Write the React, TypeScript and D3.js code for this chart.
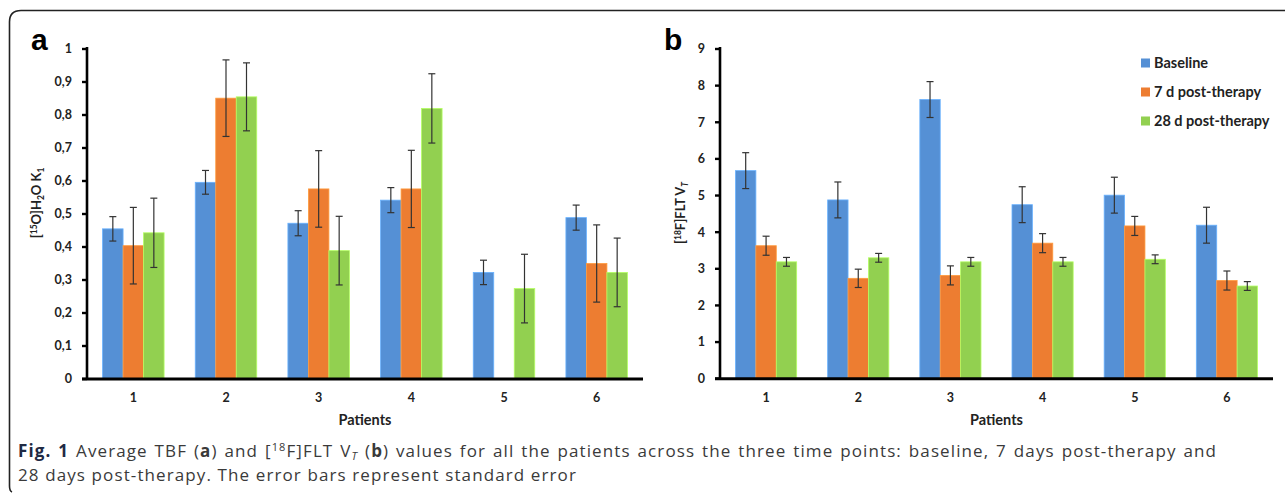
import React, { useEffect, useRef } from "react";
import * as d3 from "d3";

const patients = ["1", "2", "3", "4", "5", "6"];
const seriesNames = ["Baseline", "7 d post-therapy", "28 d post-therapy"];
const seriesColors = ["#5590d5", "#ed7d31", "#92d050"];

// Panel a: [15O]H2O K1
const baselineK1 = [0.455, 0.596, 0.472, 0.542, 0.323, 0.489];
const day7K1 = [0.404, 0.851, 0.576, 0.576, null, 0.35];
const day28K1 = [0.443, 0.855, 0.389, 0.82, 0.274, 0.323];
const baselineK1Err = [0.037, 0.036, 0.038, 0.038, 0.037, 0.038];
const day7K1Err = [0.116, 0.116, 0.116, 0.117, null, 0.117];
const day28K1Err = [0.105, 0.103, 0.104, 0.105, 0.104, 0.104];
const kTickValues = [0, 0.1, 0.2, 0.3, 0.4, 0.5, 0.6, 0.7, 0.8, 0.9, 1];
const kTickLabels = ["0", "0,1", "0,2", "0,3", "0,4", "0,5", "0,6", "0,7", "0,8", "0,9", "1"];

// Panel b: [18F]FLT VT
const baselineVT = [5.68, 4.88, 7.62, 4.75, 5.01, 4.19];
const day7VT = [3.63, 2.74, 2.82, 3.7, 4.17, 2.68];
const day28VT = [3.19, 3.3, 3.19, 3.19, 3.26, 2.53];
const baselineVTErr = [0.49, 0.49, 0.49, 0.49, 0.49, 0.49];
const day7VTErr = [0.26, 0.25, 0.26, 0.26, 0.26, 0.26];
const day28VTErr = [0.12, 0.12, 0.12, 0.12, 0.12, 0.12];
const vTickValues = [0, 1, 2, 3, 4, 5, 6, 7, 8, 9];
const vTickLabels = ["0", "1", "2", "3", "4", "5", "6", "7", "8", "9"];

const FONT = "Lato, 'Open Sans', sans-serif";

type PanelProps = {
  x0: number;
  x1: number;
  yTop: number;
  yBottom: number;
  maxVal: number;
  values: (number | null)[][];
  errors: (number | null)[][];
  tickValues: number[];
  tickLabels: string[];
  letter: string;
  letterX: number;
  yLabel: React.ReactNode;
  yLabelX: number;
  yLabelY: number;
};

function Panel(p: PanelProps) {
  const xOuter = d3.scaleBand<string>().domain(patients).range([p.x0, p.x1]).padding(0);
  const xInner = d3
    .scaleBand<string>()
    .domain(seriesNames)
    .range([0, xOuter.bandwidth()])
    .paddingInner(0)
    .paddingOuter(0.76);
  const y = d3.scaleLinear().domain([0, p.maxVal]).range([p.yBottom, p.yTop]);
  const bw = xInner.bandwidth();

  return (
    <g>
      <text x={p.letterX} y={50} fontFamily="'Liberation Sans', Arial, sans-serif" fontWeight="bold" fontSize={30} fill="#000">
        {p.letter}
      </text>
      {patients.map((pt, i) => (
        <g key={pt}>
          {seriesNames.map((s, j) => {
            const v = p.values[j][i];
            if (v == null) return null;
            const bx = (xOuter(pt) as number) + (xInner(s) as number);
            return (
              <rect
                key={s}
                x={bx}
                y={y(v)}
                width={bw}
                height={y(0) - y(v)}
                fill={seriesColors[j]}
                stroke={d3.color(seriesColors[j])!.brighter(0.6).formatHex()}
                strokeWidth={0.8}
              />
            );
          })}
        </g>
      ))}
      {patients.map((pt, i) => (
        <g key={"e" + pt}>
          {seriesNames.map((s, j) => {
            const v = p.values[j][i];
            const e = p.errors[j][i];
            if (v == null || e == null) return null;
            const cx = (xOuter(pt) as number) + (xInner(s) as number) + bw / 2;
            const t = y(v + e);
            const b = y(v - e);
            return (
              <g key={s} stroke="#333" strokeWidth={1.2}>
                <line x1={cx} x2={cx} y1={t} y2={b} />
                <line x1={cx - 3.5} x2={cx + 3.5} y1={t} y2={t} />
                <line x1={cx - 3.5} x2={cx + 3.5} y1={b} y2={b} />
              </g>
            );
          })}
        </g>
      ))}
      <line x1={p.x0} x2={p.x0} y1={p.yTop - 2} y2={p.yBottom} stroke="#000" strokeWidth={2.6} />
      {p.tickValues.map((tv, k) => (
        <g key={tv}>
          <line x1={p.x0 - 5} x2={p.x0} y1={y(tv)} y2={y(tv)} stroke="#000" strokeWidth={2.4} />
          <text
            x={p.x0 - 15}
            y={y(tv)}
            dy="0.35em"
            textAnchor="end"
            fontFamily={FONT}
            fontWeight="bold"
            fontSize={12.5}
            fill="#222"
          >
            {p.tickLabels[k]}
          </text>
        </g>
      ))}
      <line x1={p.x0 - 5} x2={p.x1} y1={p.yBottom} y2={p.yBottom} stroke="#000" strokeWidth={3} />
      {patients.map((pt) => (
        <text
          key={"xl" + pt}
          x={(xOuter(pt) as number) + xOuter.bandwidth() / 2}
          y={402}
          textAnchor="middle"
          fontFamily={FONT}
          fontWeight="bold"
          fontSize={12.5}
          fill="#222"
        >
          {pt}
        </text>
      ))}
      <text
        x={(p.x0 + p.x1) / 2}
        y={425}
        textAnchor="middle"
        fontFamily={FONT}
        fontWeight="bold"
        fontSize={14.5}
        fill="#222"
      >
        Patients
      </text>
      <text
        transform={`translate(${p.yLabelX},${p.yLabelY}) rotate(-90)`}
        textAnchor="middle"
        fontFamily={FONT}
        fontWeight="bold"
        fontSize={13}
        fill="#222"
      >
        {p.yLabel}
      </text>
    </g>
  );
}

export default function App() {
  const capRef = useRef<SVGTextElement>(null);
  const cap2Ref = useRef<SVGTextElement>(null);

  useEffect(() => {
    const el = capRef.current;
    const el2 = cap2Ref.current;
    if (!el || !el2) return;
    el2.setAttribute("letter-spacing", "0");
    const len2 = el2.getComputedTextLength();
    const n2 = (el2.textContent || "").length;
    const ls = Math.max(0, (559 - len2) / n2);
    el2.setAttribute("letter-spacing", String(ls));
    el.setAttribute("letter-spacing", String(ls));
    el.setAttribute("word-spacing", "0");
    const len = el.getComputedTextLength();
    const spaces = (el.textContent || "").split(" ").length - 1;
    if (spaces > 0) el.setAttribute("word-spacing", String(Math.max(0, (1199 - len) / spaces)));
  }, []);

  return (
    <svg width={1285} height={494} style={{ position: "absolute", left: 0, top: 0, background: "#fff" }}>
      <rect width={1285} height={494} fill="#fff" />
      <path d="M12,492 Q9.5,491 9.5,486 L9.5,22 Q9.5,10.5 21,10.5 L1285,10.5" fill="none" stroke="#222" strokeWidth={1.6} />
      <Panel
        x0={87}
        x1={643}
        yTop={49}
        yBottom={379}
        maxVal={1}
        values={[baselineK1, day7K1, day28K1]}
        errors={[baselineK1Err, day7K1Err, day28K1Err]}
        tickValues={kTickValues}
        tickLabels={kTickLabels}
        letter="a"
        letterX={31}
        yLabelX={41}
        yLabelY={203}
        yLabel={
          <>
            [<tspan fontSize={8.5} dy={-4}>15</tspan>
            <tspan dy={4}>O]H</tspan>
            <tspan fontSize={8.5} dy={3}>2</tspan>
            <tspan dy={-3}>O K</tspan>
            <tspan fontSize={8.5} dy={3}>1</tspan>
          </>
        }
      />
      <Panel
        x0={720}
        x1={1273}
        yTop={49}
        yBottom={378.7}
        maxVal={9}
        values={[baselineVT, day7VT, day28VT]}
        errors={[baselineVTErr, day7VTErr, day28VTErr]}
        tickValues={vTickValues}
        tickLabels={vTickLabels}
        letter="b"
        letterX={664}
        yLabelX={685}
        yLabelY={213}
        yLabel={
          <>
            [<tspan fontSize={8.5} dy={-4}>18</tspan>
            <tspan dy={4}>F]FLT V</tspan>
            <tspan fontSize={8.5} dy={3} fontStyle="italic">T</tspan>
          </>
        }
      />
      {seriesNames.map((s, j) => (
        <g key={"lg" + s} transform={`translate(1141,${63 + j * 29})`}>
          <rect x={0} y={-4.5} width={9} height={9} fill={seriesColors[j]} />
          <text x={13} y={0} dy="0.36em" fontFamily={FONT} fontWeight="bold" fontSize={14.5} fill="#222">
            {s}
          </text>
        </g>
      ))}
      <text ref={capRef} x={18} y={457} fontFamily="'Open Sans', sans-serif" fontSize={17} fill="#3a3a3a">
        <tspan fontWeight="bold" fill="#1f2a44">Fig. 1</tspan> Average TBF (<tspan fontWeight="bold">a</tspan>) and [
        <tspan fontSize={11} dy={-6}>18</tspan>
        <tspan dy={6}>F]FLT V</tspan>
        <tspan fontSize={11} dy={3} fontStyle="italic">T</tspan>
        <tspan dy={-3}> (</tspan>
        <tspan fontWeight="bold">b</tspan>) values for all the patients across the three time points: baseline, 7 days post-therapy and
      </text>
      <text ref={cap2Ref} x={18} y={481} fontFamily="'Open Sans', sans-serif" fontSize={17} fill="#3a3a3a">
        28 days post-therapy. The error bars represent standard error
      </text>
    </svg>
  );
}
